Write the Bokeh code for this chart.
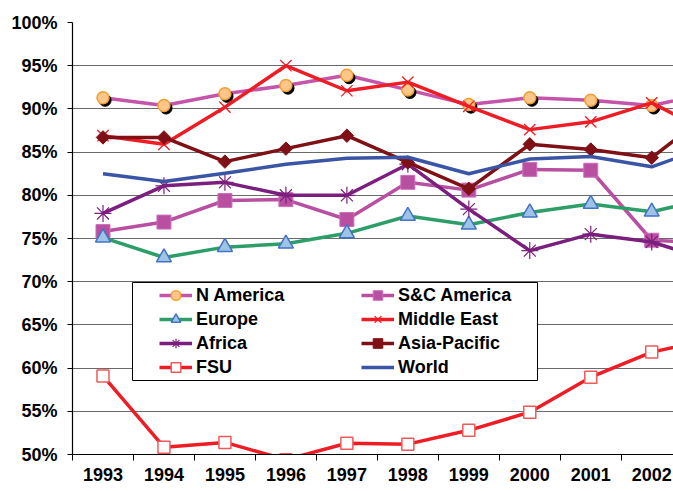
from bokeh.plotting import figure
from bokeh.models import (Range1d, FixedTicker, PrintfTickFormatter, Legend, LegendItem,
                          BoxAnnotation, ColumnDataSource)
from bokeh.transform import dodge
from bokeh.embed import file_html
from bokeh.resources import INLINE

years = [1993, 1994, 1995, 1996, 1997, 1998, 1999, 2000, 2001, 2002, 2003]
n_america = [91.3, 90.4, 91.75, 92.7, 93.9, 92.2, 90.5, 91.3, 91.0, 90.4, 91.9]
sc_america = [75.8, 76.9, 79.4, 79.5, 77.2, 81.5, 80.6, 83.0, 82.9, 74.8, 74.5]
europe = [75.1, 72.8, 74.0, 74.4, 75.6, 77.6, 76.6, 78.0, 79.0, 78.1, 79.7]
middle_east = [86.9, 85.9, 90.2, 95.0, 92.1, 93.1, 90.3, 87.6, 88.5, 90.7, 87.1]
africa = [77.9, 81.1, 81.5, 80.0, 80.0, 83.6, 78.4, 73.6, 75.5, 74.6, 72.4]
asia_pacific = [86.7, 86.7, 83.9, 85.4, 86.9, 83.8, 80.75, 85.9, 85.3, 84.35, 89.8]
fsu = [59.1, 50.85, 51.4, 49.4, 51.3, 51.2, 52.8, 54.9, 58.95, 61.85, 63.4]
world = [82.5, 81.6, 82.55, 83.6, 84.3, 84.4, 82.5, 84.2, 84.5, 83.3, 85.8]

y_ticks = [50, 55, 60, 65, 70, 75, 80, 85, 90, 95, 100]
FONT = "Liberation Sans"

p = figure(width=673, height=491,
           x_range=Range1d(1992.5, 2002.357), y_range=Range1d(50, 100),
           output_backend="svg", toolbar_location=None,
           min_border_left=72, min_border_right=0, min_border_top=22, min_border_bottom=37)
p.outline_line_color = None
p.background_fill_color = "white"
p.border_fill_color = "white"
p.xgrid.visible = False
p.ygrid.ticker = FixedTicker(ticks=y_ticks)
p.ygrid.grid_line_color = "#6a6a6a"
p.ygrid.grid_line_width = 1

# y axis
ya = p.yaxis[0]
ya.ticker = FixedTicker(ticks=y_ticks)
ya.formatter = PrintfTickFormatter(format="%d%%")
ya.major_tick_out = 5
ya.major_tick_in = 0
ya.minor_tick_out = 0
ya.minor_tick_in = 0
ya.axis_line_color = "black"
ya.axis_line_width = 1.2
ya.major_tick_line_color = "black"
ya.major_label_standoff = 10
ya.major_label_text_font = FONT
ya.major_label_text_font_style = "bold"
ya.major_label_text_font_size = "18px"
ya.major_label_text_color = "black"

# x axis: labels at category centres, tick marks at category boundaries
xa = p.xaxis[0]
xa.ticker = FixedTicker(ticks=years, minor_ticks=[y - 0.5 for y in years])
xa.formatter = PrintfTickFormatter(format="%d")
xa.major_tick_out = 0
xa.major_tick_in = 0
xa.minor_tick_out = 6
xa.minor_tick_in = 0
xa.minor_tick_line_color = "black"
xa.axis_line_color = "black"
xa.axis_line_width = 1.2
xa.major_label_standoff = 7
xa.major_label_text_font = FONT
xa.major_label_text_font_style = "bold"
xa.major_label_text_font_size = "18px"
xa.major_label_text_color = "black"

src = ColumnDataSource(dict(x=years, na=n_america, sc=sc_america, eu=europe, me=middle_east,
                            af=africa, ap=asia_pacific, fsu=fsu, w=world))

LW = 3.5
it = {}

# N America
l = p.line("x", "na", source=src, line_color="#C455AA", line_width=LW)
p.scatter(x=dodge("x", 0.035, range=p.x_range), y=dodge("na", -0.3, range=p.y_range), source=src,
          marker="circle", size=12, fill_color="black", line_color="black")
m = p.scatter("x", "na", source=src, marker="circle", size=12,
              fill_color="#FFC68A", line_color="#F0A030", line_width=1.5)
it["N America"] = [l, m]

# S&C America
l = p.line("x", "sc", source=src, line_color="#B84FA0", line_width=LW)
m = p.scatter("x", "sc", source=src, marker="square", size=14,
              fill_color="#B84FA0", line_color="#CC70BC", line_width=1)
it["S&C America"] = [l, m]

# Europe
l = p.line("x", "eu", source=src, line_color="#2E9E68", line_width=LW)
m = p.scatter("x", "eu", source=src, marker="triangle", size=15,
              fill_color="#9DC3E6", line_color="#4472C4", line_width=1.5)
it["Europe"] = [l, m]

# Middle East
l = p.line("x", "me", source=src, line_color="#EE1D25", line_width=LW)
m = p.scatter("x", "me", source=src, marker="x", size=16,
              line_color="#EE1D25", line_width=1.3)
it["Middle East"] = [l, m]

# Africa
l = p.line("x", "af", source=src, line_color="#7B1F7E", line_width=LW)
m = p.scatter("x", "af", source=src, marker="asterisk", size=17,
              line_color="#7B1F7E", line_width=1.2)
it["Africa"] = [l, m]

# Asia-Pacific
l = p.line("x", "ap", source=src, line_color="#7F1116", line_width=LW)
m = p.scatter("x", "ap", source=src, marker="square", angle=0.785, size=9.5,
              fill_color="#7F1116", line_color="#7F1116", line_width=1)
it["Asia-Pacific"] = [l, m]

# FSU
l = p.line("x", "fsu", source=src, line_color="#EE1D25", line_width=LW)
m = p.scatter("x", "fsu", source=src, marker="square", size=12,
              fill_color="white", line_color="#F05A5A", line_width=1.5)
it["FSU"] = [l, m]

# World
l = p.line("x", "w", source=src, line_color="#3A55A5", line_width=LW)
it["World"] = [l]

box = BoxAnnotation(left=60, right=465, bottom=74, top=172,
                    left_units="screen", right_units="screen",
                    bottom_units="screen", top_units="screen",
                    fill_color="white", fill_alpha=1.0,
                    line_color="black", line_width=1, line_alpha=1.0)
p.add_layout(box)

# legend laid out column by column: left column then right column
legend_order = ["N America", "Europe", "Africa", "FSU",
                "S&C America", "Middle East", "Asia-Pacific", "World"]
items = [LegendItem(label=k, renderers=it[k]) for k in legend_order]

legend = Legend(items=items, ncols=2, location=(87, 75), padding=0, spacing=0, margin=0,
                glyph_width=33, glyph_height=24, label_height=24, label_width=165,
                label_standoff=4, border_line_color=None, background_fill_alpha=0,
                label_text_font=FONT, label_text_font_style="bold",
                label_text_font_size="18px", label_text_color="black")
p.add_layout(legend)

open("out.html", "w").write(file_html(p, INLINE))
